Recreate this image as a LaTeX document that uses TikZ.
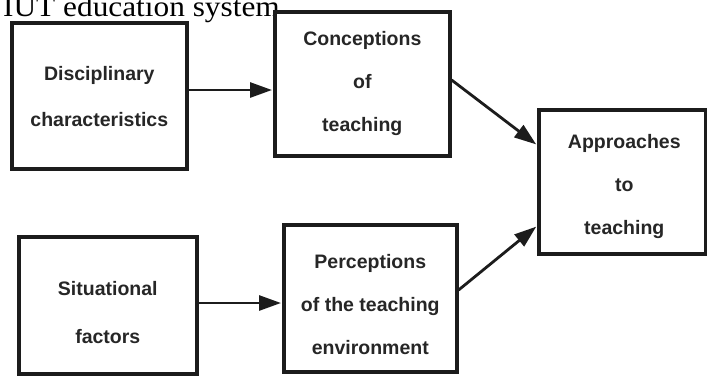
\documentclass[tikz,border=0pt]{standalone}
\usepackage{fontspec}
\setmainfont{Liberation Serif}
\newfontfamily\boxfont{Liberation Sans}
\usetikzlibrary{arrows.meta,calc}
\definecolor{ink}{HTML}{1C1C1C}
\definecolor{txtink}{HTML}{262626}
\tikzset{
  framebox/.style={draw=ink, line width=3.6pt, fill=white, inner sep=0pt, anchor=north west},
  boxtxt/.style={font=\boxfont\bfseries\fontsize{19.5}{43}\selectfont, text=txtink, align=center, inner sep=0pt},
  conn/.style={draw=ink, line width=2.8pt, -{Triangle[length=22pt,width=15pt]}, shorten >=1pt}
}
\begin{document}
\begin{tikzpicture}[x=1pt,y=-1pt]
\useasboundingbox (0,0) rectangle (707,376);
\clip (0,0) rectangle (707,376);
\fill[white] (0,0) rectangle (707,376);

% heading, cut at the top of the picture as in the scan
\node[anchor=base west, inner sep=0pt, font=\fontsize{29}{29}\selectfont, text=black] (title) at (3,16) {\scalebox{1.08}[1]{IUT education system.}};

% boxes
\node[framebox, minimum width=175pt, minimum height=146pt] (dis) at (10,21) {};
\node[framebox, minimum width=175pt, minimum height=144pt] (con) at (273,10) {};
\node[framebox, minimum width=167pt, minimum height=144pt] (app) at (537,108) {};
\node[framebox, minimum width=178pt, minimum height=137pt] (sit) at (17,235) {};
\node[framebox, minimum width=173pt, minimum height=147pt] (per) at (282,223) {};

% texts
\node[boxtxt, font=\boxfont\bfseries\fontsize{19.5}{46}\selectfont] (dist) at ($(dis.center)+(0,1)$) {Disciplinary\\characteristics};
\node[boxtxt] (cont) at ($(con.center)+(0,0)$) {Conceptions\\of\\teaching};
\node[boxtxt] (appt) at ($(app.center)+(2,5)$) {Approaches\\to\\teaching};
\node[boxtxt, font=\boxfont\bfseries\fontsize{19.5}{48}\selectfont] (sitt) at ($(sit.center)+(0,7)$) {Situational\\factors};
\node[boxtxt] (pert) at ($(per.center)+(0,6)$) {Perceptions\\of the teaching\\environment};

% connectors
\draw[conn] (dis.east |- 0,90) -- (con.west |- 0,90);
\draw[conn] (con.east |- 0,80) -- (app.west |- 0,145);
\draw[conn] (sit.east |- 0,303) -- (per.west |- 0,303);
\draw[conn] (per.east |- 0,290) -- (app.west |- 0,226);
\end{tikzpicture}
\end{document}
